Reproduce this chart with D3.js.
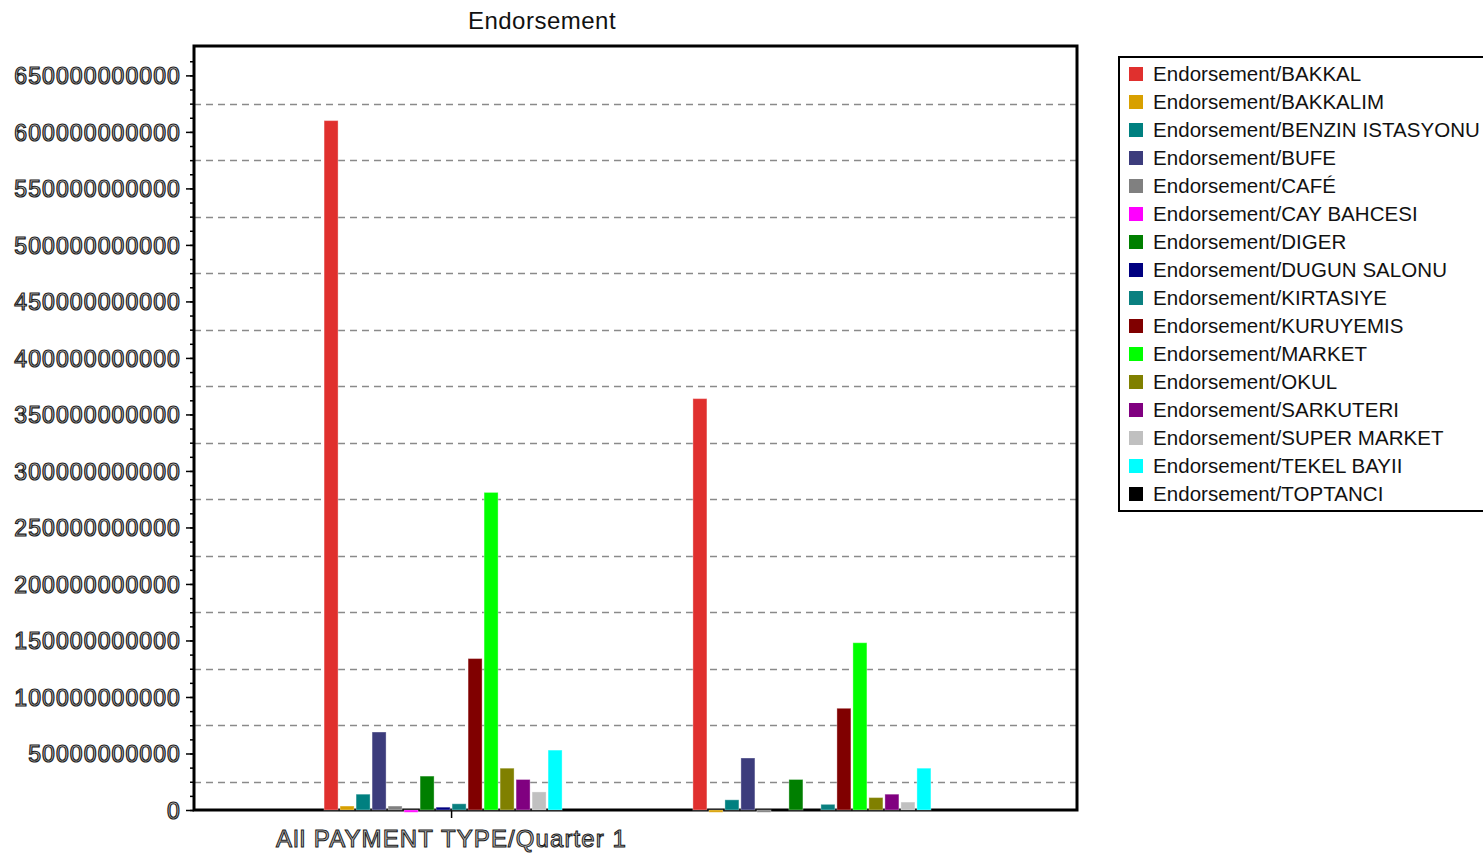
<!DOCTYPE html>
<html>
<head>
<meta charset="utf-8">
<script src="https://cdn.jsdelivr.net/npm/d3@7"></script>
<style>
  html, body { margin: 0; padding: 0; background: #ffffff; }
  svg { display: block; font-family: "Liberation Sans", Arial, sans-serif; }
</style>
</head>
<body>
<svg id="chart" width="1483" height="855"></svg>
<script>
// Category groups along the x axis
const categories = ["All PAYMENT TYPE/Quarter 1", "All PAYMENT TYPE/Quarter 2"];
// Only the first group carries a visible label
const categoryTickLabels = ["All PAYMENT TYPE/Quarter 1"];

// Series (outlet types)
const seriesNames = [
  "Endorsement/BAKKAL", "Endorsement/BAKKALIM", "Endorsement/BENZIN ISTASYONU",
  "Endorsement/BUFE", "Endorsement/CAFÉ", "Endorsement/CAY BAHCESI",
  "Endorsement/DIGER", "Endorsement/DUGUN SALONU", "Endorsement/KIRTASIYE",
  "Endorsement/KURUYEMIS", "Endorsement/MARKET", "Endorsement/OKUL",
  "Endorsement/SARKUTERI", "Endorsement/SUPER MARKET", "Endorsement/TEKEL BAYII",
  "Endorsement/TOPTANCI"
];
const seriesColors = [
  "#e0302e", "#d8a000", "#008080", "#3c3c7c", "#808080", "#ff00ff",
  "#007f00", "#000080", "#0a8080", "#800000", "#00ff00", "#808000",
  "#800080", "#c0c0c0", "#00ffff", "#000000"
];

// Values per series, for Quarter 1 and Quarter 2
const quarter1Values = [
  610e9, 3.5e9, 14e9, 69e9, 3.5e9, -2e9, 30e9, 2.5e9, 5.5e9,
  134e9, 281e9, 37e9, 27e9, 16e9, 53e9, 0
];
const quarter2Values = [
  364e9, -2e9, 9e9, 46e9, -2e9, 0, 27e9, 0, 5e9,
  90e9, 148e9, 11e9, 14e9, 7e9, 37e9, 0
];

// Y axis tick labels (major) and gridline values
const yTickValues = d3.range(0, 650e9 + 1, 50e9);
const yMinorTickValues = d3.range(0, 675e9, 12.5e9);
const gridValues = d3.range(25e9, 650e9, 50e9);

const svg = d3.select("#chart");

const plot = { left: 194, right: 1077, top: 46, bottom: 810 };

const y = d3.scaleLinear().domain([0, 676e9]).range([plot.bottom, plot.top]);

const x0 = d3.scalePoint()
  .domain(categories)
  .range([plot.left, plot.right])
  .padding(0.697);

const x1 = d3.scaleBand()
  .domain(seriesNames)
  .range([-128, 128])
  .paddingInner(0.125)
  .paddingOuter(0.0625);

const color = d3.scaleOrdinal().domain(seriesNames).range(seriesColors);

const valuesByCategory = [quarter1Values, quarter2Values];
const rows = categories.map((c, i) => ({
  category: c,
  bars: seriesNames.map((s, j) => ({ series: s, value: valuesByCategory[i][j] }))
}));

// Title
svg.append("text")
  .attr("x", 542).attr("y", 29)
  .attr("text-anchor", "middle")
  .attr("font-size", 24)
  .attr("letter-spacing", 0.5)
  .attr("fill", "#111")
  .text("Endorsement");

// Dashed gridlines
svg.append("g")
  .selectAll("line")
  .data(gridValues)
  .join("line")
  .attr("x1", plot.left).attr("x2", plot.right)
  .attr("y1", d => Math.round(y(d)) + 0.5).attr("y2", d => Math.round(y(d)) + 0.5)
  .attr("stroke", "#8a8a8a")
  .attr("stroke-width", 1.6)
  .attr("stroke-dasharray", "7,5");

// Plot frame
svg.append("rect")
  .attr("x", plot.left).attr("y", plot.top)
  .attr("width", plot.right - plot.left)
  .attr("height", plot.bottom - plot.top)
  .attr("fill", "none")
  .attr("stroke", "#000")
  .attr("stroke-width", 3);

// Minor ticks on the y axis
const yMinor = d3.axisLeft(y).tickValues(yMinorTickValues).tickSize(4).tickFormat("");
svg.append("g")
  .attr("transform", `translate(${plot.left},0)`)
  .call(yMinor)
  .call(g => g.select(".domain").remove())
  .call(g => g.selectAll("line").attr("stroke", "#000").attr("stroke-width", 1.5));

// Major ticks with labels
const yAxis = d3.axisLeft(y).tickValues(yTickValues).tickSize(8).tickPadding(5)
  .tickFormat(d => d3.format("d")(d));
svg.append("g")
  .attr("transform", `translate(${plot.left},0)`)
  .call(yAxis)
  .call(g => g.select(".domain").remove())
  .call(g => g.selectAll("line").attr("stroke", "#000").attr("stroke-width", 1.5))
  .call(g => g.selectAll("text")
    .attr("font-family", "'Liberation Sans', Arial, sans-serif")
    .attr("font-size", 23)
    .attr("letter-spacing", 1.1)
    .attr("fill", "#d4d4d4")
    .attr("stroke", "#222")
    .attr("stroke-width", 1.2)
    .attr("dy", "0.36em"));

// X axis: a single labelled category tick
const xAxis = d3.axisBottom(x0).tickValues(categoryTickLabels).tickSize(8).tickPadding(11);
svg.append("g")
  .attr("transform", `translate(0,${plot.bottom})`)
  .call(xAxis)
  .call(g => g.select(".domain").remove())
  .call(g => g.selectAll("line").attr("stroke", "#000").attr("stroke-width", 1.5))
  .call(g => g.selectAll("text")
    .attr("font-family", "'Liberation Sans', Arial, sans-serif")
    .attr("font-size", 24)
    .attr("letter-spacing", 1.1)
    .attr("fill", "#bdbdbd")
    .attr("stroke", "#1a1a1a")
    .attr("stroke-width", 1)
    .attr("dy", "0.75em"));

// Bars
svg.append("g")
  .selectAll("g")
  .data(rows)
  .join("g")
  .attr("transform", d => `translate(${x0(d.category)},0)`)
  .selectAll("rect")
  .data(d => d.bars)
  .join("rect")
  .attr("x", d => x1(d.series))
  .attr("width", x1.bandwidth())
  .attr("y", d => Math.min(y(d.value), y(0)))
  .attr("height", d => Math.abs(y(d.value) - y(0)))
  .attr("fill", d => color(d.series))
  .attr("stroke", "rgba(255,255,255,0.35)")
  .attr("stroke-width", 1);

// Legend
const legend = svg.append("g");
legend.append("rect")
  .attr("x", 1119).attr("y", 57)
  .attr("width", 400).attr("height", 454)
  .attr("fill", "#fff")
  .attr("stroke", "#000")
  .attr("stroke-width", 2);

const legendRow = d3.scalePoint().domain(seriesNames).range([74, 494]);

const items = legend.selectAll("g.item")
  .data(seriesNames)
  .join("g")
  .attr("class", "item")
  .attr("transform", d => `translate(1129,${legendRow(d)})`);

items.append("rect")
  .attr("x", 0).attr("y", -7)
  .attr("width", 14).attr("height", 14)
  .attr("fill", d => color(d));

items.append("text")
  .attr("x", 24).attr("y", 0)
  .attr("dy", "0.36em")
  .attr("font-size", 20.5)
  .attr("letter-spacing", 0.05)
  .attr("fill", "#111")
  .text(d => d);
</script>
</body>
</html>
